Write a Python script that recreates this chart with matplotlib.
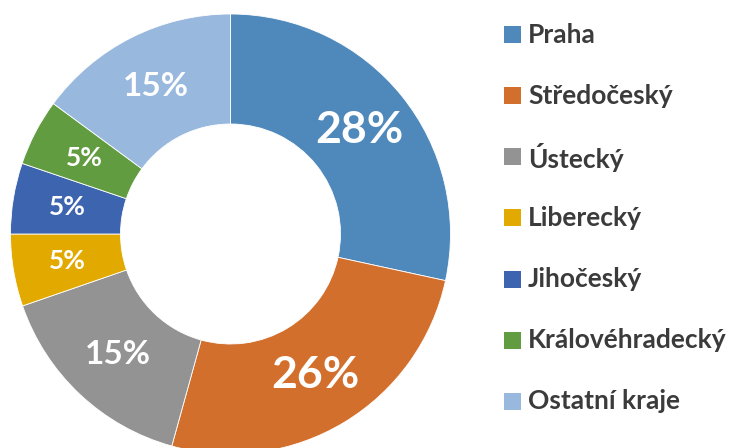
import matplotlib.pyplot as plt
from matplotlib.patches import Rectangle

# data
kraje = ['Praha', 'Středočeský', 'Ústecký', 'Liberecký', 'Jihočeský',
         'Královéhradecký', 'Ostatní kraje']
podil = [28.4, 25.9, 15.4, 5.3, 5.2, 4.9, 14.9]
barvy = ['#4f89bc', '#d36f2d', '#939393', '#e2aa00', '#3d64ae', '#629c40', '#98b8dd']
velikost_popisku = [32, 32, 24, 19, 19, 19, 24]

plt.rcParams['font.family'] = ['Lato', 'DejaVu Sans']

fig = plt.figure(figsize=(7.32, 4.48), dpi=100)
W, H = 732, 448

# osa s grafem (stred ~ 230,234 px od horniho okraje, polomer 220 px)
ax = fig.add_axes([10.5 / W, -6 / H, 440 / W, 440 / H])
wedges, texts, autotexts = ax.pie(
    podil, colors=barvy, startangle=90, counterclock=False,
    autopct='%.0f%%', pctdistance=0.75,
    wedgeprops=dict(width=0.5, edgecolor='white', linewidth=0.6))
for t, fs in zip(autotexts, velikost_popisku):
    t.set_color('white')
    t.set_fontweight('bold')
    t.set_fontsize(fs)
ax.set_xlim(-1, 1)
ax.set_ylim(-1, 1)
ax.set_aspect('equal')

# legenda
y0, krok = 35, 61
for i, (nazev, c) in enumerate(zip(kraje, barvy)):
    y = y0 + i * krok
    fig.patches.append(Rectangle((504 / W, 1 - (y + 8.5) / H), 17 / W, 17 / H,
                                 transform=fig.transFigure, facecolor=c,
                                 edgecolor='none'))
    fig.text(528 / W, 1 - y / H, nazev, fontsize=19, fontweight='bold',
             color='#3b3b3b', va='center', ha='left')

fig.savefig('out.png', dpi=100)
